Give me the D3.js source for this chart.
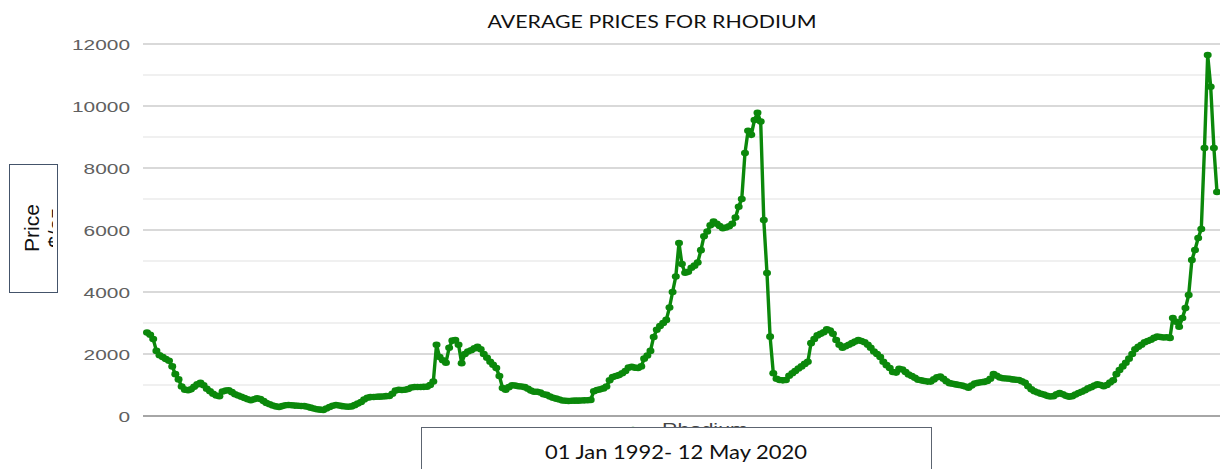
<!DOCTYPE html>
<html>
<head>
<meta charset="utf-8">
<script src="https://cdn.jsdelivr.net/npm/d3@7"></script>
<style>
  html, body { margin: 0; padding: 0; background: #fff; }
  svg { display: block; }
</style>
</head>
<body>
<div id="chart"></div>
<script>
// monthly average rhodium price, US$/oz, starting Jan 1992
const firstMonth = "1992-01";
const prices = [
  2690, 2620, 2480, 2100, 1960, 1900, 1840, 1780, 1600, 1350, 1180, 950,   // 1992
  850, 830, 860, 940, 1020, 1070, 990, 880, 800, 720, 660, 640,            // 1993
  790, 820, 830, 770, 700, 660, 620, 580, 540, 510, 540, 575,              // 1994
  550, 480, 420, 380, 340, 310, 290, 320, 345, 355, 345, 335,              // 1995
  330, 325, 320, 300, 270, 240, 220, 205, 195, 240, 290, 330,              // 1996
  355, 340, 320, 305, 300, 310, 350, 400, 450, 530, 590, 610,              // 1997
  615, 620, 625, 630, 640, 645, 720, 820, 845, 840, 845, 870,              // 1998
  920, 935, 935, 935, 940, 945, 1000, 1110, 2300, 1900, 1800, 1720,        // 1999
  2200, 2430, 2450, 2300, 1700, 2000, 2080, 2120, 2180, 2230, 2150, 2000,  // 2000
  1880, 1750, 1650, 1545, 1290, 900, 850, 930, 990, 980, 960, 950,         // 2001
  930, 880, 820, 780, 780, 760, 700, 680, 630, 590, 560, 530,              // 2002
  500, 490, 485, 490, 495, 495, 500, 505, 510, 520, 800, 840,              // 2003
  860, 890, 950, 1150, 1260, 1290, 1320, 1380, 1450, 1560, 1590, 1560,     // 2004
  1550, 1600, 1850, 1950, 2100, 2550, 2780, 2900, 3000, 3100, 3500, 4000,  // 2005
  4500, 5580, 4900, 4620, 4650, 4780, 4850, 4950, 5350, 5800, 5950, 6150,  // 2006
  6270, 6200, 6130, 6060, 6080, 6120, 6200, 6400, 6750, 7000, 8480, 9200,  // 2007
  9070, 9550, 9780, 9500, 6320, 4610, 2560, 1380, 1200, 1160, 1150, 1160,  // 2008
  1300, 1380, 1450, 1530, 1600, 1680, 1750, 2350, 2480, 2600, 2650, 2700,  // 2009
  2800, 2760, 2650, 2450, 2300, 2200, 2250, 2300, 2350, 2400, 2450, 2420,  // 2010
  2380, 2300, 2200, 2080, 2000, 1900, 1750, 1640, 1550, 1420, 1400, 1520,  // 2011
  1500, 1420, 1340, 1290, 1230, 1170, 1150, 1130, 1110, 1110, 1180, 1250,  // 2012
  1270, 1200, 1120, 1060, 1040, 1020, 1000, 980, 950, 910, 980, 1050,      // 2013
  1070, 1090, 1100, 1130, 1200, 1350, 1300, 1240, 1220, 1210, 1200, 1180,  // 2014
  1170, 1160, 1120, 1070, 960, 860, 800, 760, 720, 690, 650, 630,          // 2015
  640, 700, 740, 700, 650, 625, 640, 690, 740, 780, 830, 890,              // 2016
  930, 980, 1020, 1000, 960, 1000, 1080, 1150, 1350, 1480, 1600, 1720,     // 2017
  1850, 2000, 2150, 2230, 2300, 2380, 2420, 2460, 2520, 2560, 2550, 2530,  // 2018
  2540, 2520, 3160, 3040, 2880, 3160, 3480, 3900, 5030, 5355, 5740, 6030,  // 2019
  8645, 11645, 10620, 8645, 7225                                           // 2020
];
const majorTicks = [0, 2000, 4000, 6000, 8000, 10000, 12000];
const minorTicks = [1000, 3000, 5000, 7000, 9000, 11000];

const titleText = "AVERAGE PRICES FOR RHODIUM";
const seriesName = "Rhodium";
const axisLabel = ["Price", "$/oz"];
const rangeText = "01 Jan 1992- 12 May 2020";

const width = 1220, height = 469;
const lineColor = "#0b880b";

const parseMonth = d3.timeParse("%Y-%m");
const start = parseMonth(firstMonth);
const data = prices.map((p, i) => ({ date: d3.timeMonth.offset(start, i), price: p }));

const svg = d3.select("#chart").append("svg")
  .attr("width", width)
  .attr("height", height);

const x = d3.scaleTime()
  .domain(d3.extent(data, (d) => d.date))
  .range([147, 1217]);

const y = d3.scaleLinear()
  .domain([0, 12000])
  .range([416, 44]);

const gridLeft = 143, gridRight = width;

// grid
svg.append("g").selectAll("line")
  .data(minorTicks)
  .enter().append("line")
  .attr("x1", gridLeft).attr("x2", gridRight)
  .attr("y1", (d) => y(d)).attr("y2", (d) => y(d))
  .attr("stroke", "#ebebeb").attr("stroke-width", 1.3);

svg.append("g").selectAll("line")
  .data(majorTicks.filter((d) => d > 0))
  .enter().append("line")
  .attr("x1", gridLeft).attr("x2", gridRight)
  .attr("y1", (d) => y(d)).attr("y2", (d) => y(d))
  .attr("stroke", "#cdcdcd").attr("stroke-width", 1.3);

// y labels (source chart is stretched horizontally)
svg.append("g").selectAll("text")
  .data(majorTicks)
  .enter().append("text")
  .attr("x", 130)
  .attr("y", (d) => y(d) + 6)
  .attr("text-anchor", "end")
  .attr("fill", "#606060")
  .attr("font-family", "Liberation Sans, Arial, sans-serif")
  .attr("font-size", 15.5)
  .attr("textLength", (d) => String(d).length * 11.6)
  .attr("lengthAdjust", "spacingAndGlyphs")
  .text((d) => d);

// x axis baseline
svg.append("line")
  .attr("x1", gridLeft).attr("x2", gridRight)
  .attr("y1", y(0)).attr("y2", y(0))
  .attr("stroke", "#888").attr("stroke-width", 1.5);

// title
svg.append("text")
  .attr("x", 652)
  .attr("y", 28)
  .attr("text-anchor", "middle")
  .attr("fill", "#111")
  .attr("font-family", "Lato, sans-serif")
  .attr("font-size", 16.5)
  .attr("textLength", 329)
  .attr("lengthAdjust", "spacingAndGlyphs")
  .text(titleText);

// series line + markers
const line = d3.line()
  .x((d) => x(d.date))
  .y((d) => y(d.price));

svg.append("path")
  .datum(data)
  .attr("d", line)
  .attr("fill", "none")
  .attr("stroke", lineColor)
  .attr("stroke-width", 3.4)
  .attr("stroke-linejoin", "round");

svg.append("g").selectAll("ellipse")
  .data(data)
  .enter().append("ellipse")
  .attr("cx", (d) => x(d.date))
  .attr("cy", (d) => y(d.price))
  .attr("rx", 4)
  .attr("ry", 3.3)
  .attr("fill", lineColor);

// legend (mostly hidden behind the date box)
svg.append("line")
  .attr("x1", 620).attr("x2", 646)
  .attr("y1", 430).attr("y2", 430)
  .attr("stroke", lineColor).attr("stroke-width", 3);
svg.append("ellipse")
  .attr("cx", 633).attr("cy", 430)
  .attr("rx", 4).attr("ry", 3.2)
  .attr("fill", lineColor);
svg.append("text")
  .attr("x", 662)
  .attr("y", 435)
  .attr("fill", "#444")
  .attr("font-family", "Liberation Sans, Arial, sans-serif")
  .attr("font-size", 17)
  .attr("textLength", 86)
  .attr("lengthAdjust", "spacingAndGlyphs")
  .text(seriesName);

// date range box
svg.append("rect")
  .attr("x", 421.5).attr("y", 427.5)
  .attr("width", 510).attr("height", 60)
  .attr("fill", "#fff")
  .attr("stroke", "#5c6470").attr("stroke-width", 1);
svg.append("text")
  .attr("x", 676)
  .attr("y", 459)
  .attr("text-anchor", "middle")
  .attr("fill", "#111")
  .attr("font-family", "Lato, sans-serif")
  .attr("font-size", 20)
  .attr("textLength", 262)
  .attr("lengthAdjust", "spacingAndGlyphs")
  .text(rangeText);

// axis title box
svg.append("defs").append("clipPath")
  .attr("id", "labelClip")
  .append("rect")
  .attr("x", 10).attr("y", 165)
  .attr("width", 43).attr("height", 127);

svg.append("rect")
  .attr("x", 9.5).attr("y", 164.5)
  .attr("width", 48).attr("height", 128)
  .attr("fill", "#fff")
  .attr("stroke", "#44546a").attr("stroke-width", 1);

const labelGroup = svg.append("g").attr("clip-path", "url(#labelClip)");
labelGroup.selectAll("text")
  .data(axisLabel)
  .enter().append("text")
  .attr("transform", (d, i) => `translate(${38.5 + i * 24},228) rotate(-90)`)
  .attr("text-anchor", "middle")
  .attr("fill", "#111")
  .attr("font-family", "Liberation Sans, Arial, sans-serif")
  .attr("font-size", 21)
  .text((d) => d);
</script>
</body>
</html>
